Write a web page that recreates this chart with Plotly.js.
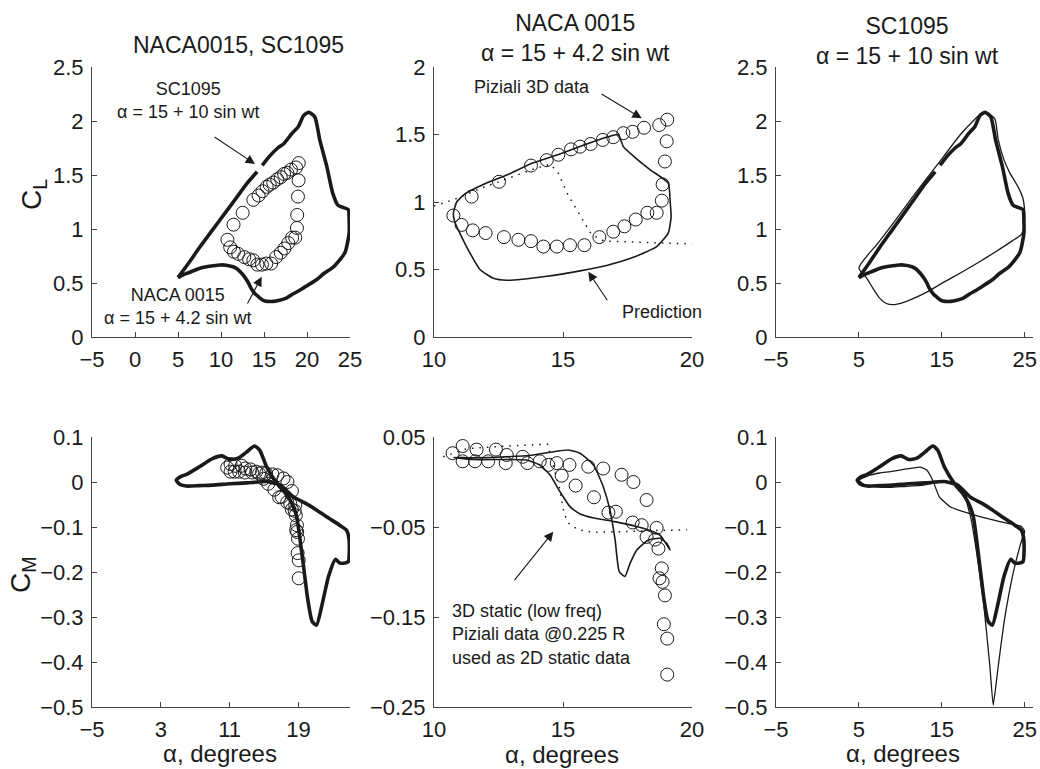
<!DOCTYPE html>
<html>
<head>
<meta charset="utf-8">
<script src="https://cdn.plot.ly/plotly-3.0.1.min.js"></script>
<style>html,body{margin:0;padding:0;background:#fff;}#chart{width:1040px;height:769px;}</style>
</head>
<body>
<div id="chart"></div>
<script>
// ---------- SC1095, alpha = 15 + 10 sin wt : C_L (thick = prediction 1, thin = prediction 2)
const alphaScClThick = [5.0, 6.2, 7.6, 9.0, 10.4, 11.8, 13.0, 14.2, null, 14.8, 15.6, 16.6, 17.3, 18.2, 19.0, 19.6, 20.2, 20.9, 21.5, 22.3, 23.0, 23.6, 24.2, 24.8, 24.9, 24.9, 24.4, 23.1, 22.0, 21.1, 20.1, 19.2, 18.4, 17.6, 16.8, 16.1, 15.4, 14.9, 14.4, 13.95, 13.5, 13.2, 12.8, 12.4, 11.9, 11.4, 10.6, 9.9, 9.1, 8.3, 7.3, 6.4, 5.7, 5.0];
const clScThick = [0.55, 0.68, 0.84, 0.99, 1.14, 1.29, 1.42, 1.53, null, 1.59, 1.67, 1.75, 1.79, 1.88, 1.95, 2.05, 2.08, 2.04, 1.82, 1.58, 1.33, 1.22, 1.20, 1.18, 1.08, 0.96, 0.78, 0.65, 0.59, 0.53, 0.48, 0.435, 0.40, 0.36, 0.34, 0.33, 0.33, 0.34, 0.37, 0.40, 0.45, 0.50, 0.55, 0.59, 0.63, 0.65, 0.665, 0.667, 0.66, 0.65, 0.63, 0.60, 0.58, 0.55];
const alphaScClThin = [5.0, 7.3, 9.3, 11.3, 13.3, 15.3, 17.3, 18.9, 19.8, 20.6, 21.4, 21.8, 22.5, 23.2, 24.2, 24.8, 25.0, 24.9, 24.6, 23.5, 21.5, 19.4, 17.4, 15.3, 13.3, 11.4, 10.4, 9.3, 8.3, 7.5, 6.7, 5.9, 5.0];
const clScThin = [0.64, 0.87, 1.07, 1.28, 1.48, 1.68, 1.88, 2.01, 2.07, 2.07, 2.02, 1.83, 1.64, 1.52, 1.39, 1.28, 1.12, 1.02, 0.95, 0.89, 0.79, 0.69, 0.60, 0.51, 0.42, 0.35, 0.32, 0.30, 0.31, 0.36, 0.45, 0.55, 0.64];

// ---------- SC1095 : C_M
const alphaScCmThick = [4.8, 5.3, 6.0, 7.5, 9.0, 10.1, 11.0, 12.0, 13.0, 13.9, 14.5, 15.3, 16.5, 17.5, 18.3, 18.8, 19.2, 19.6, 20.1, 20.6, 21.1, 21.7, 22.5, 23.3, 23.8, 24.4, 24.8, 24.9, 24.6, 23.8, 22.5, 21.1, 19.8, 18.4, 16.9, 15.3, 13.0, 11.0, 9.0, 7.5, 6.0, 5.2, 4.8];
const cmScThick = [0.004, 0.012, 0.017, 0.034, 0.052, 0.058, 0.050, 0.053, 0.067, 0.080, 0.071, 0.034, -0.003, -0.025, -0.05, -0.077, -0.129, -0.188, -0.262, -0.31, -0.318, -0.277, -0.21, -0.172, -0.18, -0.18, -0.177, -0.129, -0.107, -0.096, -0.08, -0.062, -0.047, -0.033, -0.007, 0.001, -0.002, -0.004, -0.007, -0.008, -0.009, -0.005, 0.004];
const alphaScCmThin = [5.0, 6.3, 7.5, 8.8, 10.7, 12.4, 13.15, 13.9, 14.7, 16.0, 17.6, 19.6, 22.0, 24.6, 25.0, 24.8, 24.4, 23.6, 22.55, 21.8, 21.2, 20.8, 20.0, 19.15, 18.55, 17.8, 16.8, 15.15, 12.8, 10.4, 8.8, 6.8, 5.6, 5.0];
const cmScThin = [0.004, 0.015, 0.02, 0.023, 0.029, 0.033, 0.027, 0.004, -0.033, -0.055, -0.066, -0.077, -0.088, -0.099, -0.11, -0.12, -0.144, -0.203, -0.307, -0.41, -0.496, -0.41, -0.262, -0.151, -0.084, -0.033, -0.003, 0.001, -0.007, -0.01, -0.012, -0.01, -0.005, 0.004];

// ---------- NACA 0015, alpha = 15 + 4.2 sin wt : Piziali 3D data (circles)
const alphaNacaCl = [10.75, 11.07, 11.5, 12.0, 12.71, 13.27, 13.76, 14.24, 14.76, 15.27, 15.83, 16.41, 16.95, 17.38, 17.82, 18.27, 18.63, 18.83, 18.86, 18.95, 19.02, 19.04, 18.73, 18.14, 17.70, 17.34, 16.95, 16.54, 16.07, 15.66, 15.31, 14.82, 14.37, 13.76, 12.52, 11.46];
const clNaca = [0.90, 0.83, 0.79, 0.77, 0.74, 0.72, 0.71, 0.67, 0.67, 0.68, 0.68, 0.74, 0.78, 0.82, 0.87, 0.92, 0.92, 1.01, 1.13, 1.30, 1.45, 1.61, 1.57, 1.55, 1.52, 1.51, 1.48, 1.46, 1.43, 1.41, 1.39, 1.35, 1.31, 1.27, 1.15, 1.04];
const alphaNacaCm = [10.72, 11.11, 11.11, 11.65, 11.59, 12.10, 12.40, 12.82, 12.78, 13.44, 13.62, 14.10, 14.43, 14.76, 14.95, 15.25, 15.49, 15.98, 16.20, 16.56, 16.76, 17.05, 17.27, 17.73, 17.70, 18.05, 18.24, 18.24, 18.63, 18.57, 18.70, 18.83, 18.74, 18.86, 18.95, 18.91, 19.04, 19.04];
const cmNaca = [0.032, 0.040, 0.023, 0.036, 0.023, 0.023, 0.036, 0.030, 0.021, 0.028, 0.021, 0.023, 0.019, 0.021, 0.007, 0.019, -0.004, 0.017, -0.017, 0.015, -0.034, -0.033, 0.008, 0.000, -0.045, -0.048, -0.020, -0.061, -0.051, -0.064, -0.074, -0.096, -0.107, -0.111, -0.126, -0.158, -0.174, -0.214];

// ---------- NACA 0015 : prediction
const alphaPredCl = [10.75, 10.88, 11.2, 11.91, 12.82, 13.85, 14.88, 15.92, 16.69, 17.14, 17.34, 17.73, 18.37, 19.08, 19.15, 19.19, 19.08, 18.63, 17.73, 16.69, 15.66, 14.37, 12.82, 12.3, 11.78, 11.4, 11.0, 10.81, 10.75];
const clPred = [0.916, 1.00, 1.06, 1.13, 1.20, 1.29, 1.356, 1.43, 1.48, 1.50, 1.41, 1.34, 1.24, 1.14, 1.01, 0.89, 0.77, 0.67, 0.59, 0.53, 0.49, 0.45, 0.42, 0.435, 0.50, 0.62, 0.77, 0.85, 0.916];
const alphaPredCm = [10.75, 11.5, 12.82, 13.85, 14.63, 15.21, 15.66, 16.18, 16.56, 16.82, 17.02, 17.18, 17.4, 17.6, 17.86, 18.31, 18.76, 19.02, 19.15, 18.76, 18.11, 17.0, 16.2, 15.66, 15.27, 14.88, 14.5, 14.1, 13.59, 12.82, 11.5, 10.75];
const cmPred = [0.0274, 0.027, 0.028, 0.030, 0.0337, 0.0356, 0.0319, 0.0189, -0.0052, -0.031, -0.0644, -0.0997, -0.105, -0.0904, -0.0756, -0.0644, -0.0626, -0.068, -0.0756, -0.059, -0.0515, -0.044, -0.040, -0.0355, -0.0274, -0.0107, 0.0078, 0.0189, 0.0244, 0.025, 0.025, 0.0274];

// ---------- NACA 0015 : 3D static (low freq) Piziali data used as 2D static data (dotted)
const alphaStaticCl = [10.0, 10.8, 11.8, 12.9, 13.8, 14.5, 14.8, 15.2, 15.6, 16.1, 16.6, 18.0, 20.0];
const clStatic = [0.97, 1.02, 1.10, 1.18, 1.24, 1.28, 1.22, 1.05, 0.92, 0.76, 0.71, 0.70, 0.69];
const alphaStaticCm = [10.36, 11.27, 12.82, 14.4, 14.7, 14.85, 14.95, 15.05, 15.25, 15.6, 16.2, 17.5, 19.8];
const cmStatic = [0.028, 0.037, 0.040, 0.042, 0.010, -0.005, -0.020, -0.036, -0.047, -0.053, -0.056, -0.055, -0.053];

// ---------- tick labels
const tickA1 = [-5, 0, 5, 10, 15, 20, 25];
const tickA1Text = ['\u22125', '0', '5', '10', '15', '20', '25'];
const tickA2 = [10, 15, 20];
const tickA2Text = ['10', '15', '20'];
const tickA3 = [-5, 5, 15, 25];
const tickA3Text = ['\u22125', '5', '15', '25'];
const tickA4 = [-5, 3, 11, 19];
const tickA4Text = ['\u22125', '3', '11', '19'];
const tickCl25 = [0, 0.5, 1, 1.5, 2, 2.5];
const tickCl25Text = ['0', '0.5', '1', '1.5', '2', '2.5'];
const tickCl2 = [0, 0.5, 1, 1.5, 2];
const tickCl2Text = ['0', '0.5', '1', '1.5', '2'];
const tickCm = [-0.5, -0.4, -0.3, -0.2, -0.1, 0, 0.1];
const tickCmText = ['\u22120.5', '\u22120.4', '\u22120.3', '\u22120.2', '\u22120.1', '0', '0.1'];
const tickCm5 = [-0.25, -0.15, -0.05, 0.05];
const tickCm5Text = ['\u22120.25', '\u22120.15', '\u22120.05', '0.05'];

// ---------- build
const FONT = 'Liberation Sans, Arial, Helvetica, sans-serif';
const INK = '#1a1a1a';

function line(x, y, xa, ya, w, opts) {
  opts = opts || {};
  return {
    type: 'scatter', mode: 'lines', x: x, y: y, xaxis: xa, yaxis: ya,
    line: Object.assign({color: INK, width: w, shape: 'spline', smoothing: 0.6}, opts),
    cliponaxis: false, connectgaps: false, hoverinfo: 'skip', showlegend: false
  };
}
function circles(x, y, xa, ya) {
  return {
    type: 'scatter', mode: 'markers', x: x, y: y, xaxis: xa, yaxis: ya,
    marker: {symbol: 'circle-open', size: 13, color: INK, line: {width: 1, color: INK}},
    cliponaxis: false, hoverinfo: 'skip', showlegend: false
  };
}
const dotted = {dash: '1.5px,6px', shape: 'linear'};

const traces = [
  line(alphaScClThick, clScThick, 'x', 'y', 3.6),
  circles(alphaNacaCl, clNaca, 'x', 'y'),

  line(alphaStaticCl, clStatic, 'x2', 'y2', 1.5, dotted),
  line(alphaPredCl, clPred, 'x2', 'y2', 1.6, {smoothing: 0.5}),
  circles(alphaNacaCl, clNaca, 'x2', 'y2'),

  line(alphaScClThin, clScThin, 'x3', 'y3', 1.3),
  line(alphaScClThick, clScThick, 'x3', 'y3', 3.6),

  line(alphaScCmThick, cmScThick, 'x4', 'y4', 3.6),
  circles(alphaNacaCm, cmNaca, 'x4', 'y4'),

  line(alphaStaticCm, cmStatic, 'x5', 'y5', 1.5, dotted),
  line(alphaPredCm, cmPred, 'x5', 'y5', 1.6, {smoothing: 0.5}),
  circles(alphaNacaCm, cmNaca, 'x5', 'y5'),

  line(alphaScCmThin, cmScThin, 'x6', 'y6', 1.3, {smoothing: 0.4}),
  line(alphaScCmThick, cmScThick, 'x6', 'y6', 3.6)
];

const W = 1040, H = 769;
const colDom = [[92 / W, 350 / W], [434 / W, 692 / W], [776 / W, 1033 / W]];
const rowDom = [[1 - 337 / H, 1 - 67 / H], [1 - 707 / H, 1 - 437 / H]];

function ax(dom, anchor, range, vals, text) {
  return {
    domain: dom, anchor: anchor, range: range, tickmode: 'array', tickvals: vals, ticktext: text,
    showline: true, linecolor: '#444', linewidth: 1, ticks: 'inside', ticklen: 5, tickwidth: 1, tickcolor: '#444',
    showgrid: false, zeroline: false, mirror: false, ticklabelstandoff: 3, ticklabeloverflow: 'allow',
    tickfont: {family: FONT, size: 22, color: INK}, fixedrange: true
  };
}

function txt(text, px, py, size, extra) {
  return Object.assign({
    text: text, xref: 'paper', yref: 'paper', x: px / W, y: 1 - py / H,
    xanchor: 'center', yanchor: 'middle', showarrow: false,
    font: {family: FONT, size: size, color: INK}
  }, extra || {});
}
function arrow(hx, hy, tx, ty) {
  return {
    text: '', xref: 'paper', yref: 'paper', x: hx / W, y: 1 - hy / H,
    ax: tx - hx, ay: ty - hy, showarrow: true, arrowhead: 2, arrowsize: 1.7,
    arrowwidth: 1.1, arrowcolor: INK, standoff: 0, startstandoff: 0
  };
}

const annotations = [
  txt('NACA0015, SC1095', 238, 45, 23),
  txt('NACA 0015<br>\u03b1 = 15 + 4.2 sin wt', 575, 38, 23),
  txt('SC1095<br>\u03b1 = 15 + 10 sin wt', 907, 41, 23),
  txt('SC1095<br>\u03b1 = 15 + 10 sin wt', 188, 100, 18),
  txt('NACA 0015<br>\u03b1 = 15 + 4.2 sin wt', 178, 306, 18),
  txt('Piziali 3D data', 532, 87, 18),
  txt('Prediction', 662, 312, 18),
  txt('3D static (low freq)<br>Piziali data @0.225 R<br>used as 2D static data', 450, 634, 18, {xanchor: 'left', align: 'left'}),
  txt('C<sub>L</sub>', 33, 195, 28, {textangle: -90}),
  txt('C<sub>M</sub>', 22, 575, 28, {textangle: -90}),
  txt('\u03b1, degrees', 220, 753, 24),
  txt('\u03b1, degrees', 562, 754, 24),
  txt('\u03b1, degrees', 903, 753, 24),
  arrow(255, 164, 213, 136),
  arrow(261.7, 276.7, 246.7, 305),
  arrow(641.7, 118.3, 600, 93),
  arrow(588.3, 271.7, 608.3, 301.7),
  arrow(553.3, 531.7, 513.3, 581.7)
];

const layout = {
  width: W, height: H, margin: {l: 0, r: 0, t: 0, b: 0},
  paper_bgcolor: '#fff', plot_bgcolor: '#fff', showlegend: false, hovermode: false,
  font: {family: FONT, color: INK},
  xaxis: ax(colDom[0], 'y', [-5, 25], tickA1, tickA1Text),
  yaxis: ax(rowDom[0], 'x', [0, 2.5], tickCl25, tickCl25Text),
  xaxis2: ax(colDom[1], 'y2', [10, 20], tickA2, tickA2Text),
  yaxis2: ax(rowDom[0], 'x2', [0, 2], tickCl2, tickCl2Text),
  xaxis3: ax(colDom[2], 'y3', [-5, 26], tickA3, tickA3Text),
  yaxis3: ax(rowDom[0], 'x3', [0, 2.5], tickCl25, tickCl25Text),
  xaxis4: ax(colDom[0], 'y4', [-5, 25], tickA4, tickA4Text),
  yaxis4: ax(rowDom[1], 'x4', [-0.5, 0.1], tickCm, tickCmText),
  xaxis5: ax(colDom[1], 'y5', [10, 20], tickA2, tickA2Text),
  yaxis5: ax(rowDom[1], 'x5', [-0.25, 0.05], tickCm5, tickCm5Text),
  xaxis6: ax(colDom[2], 'y6', [-5, 26], tickA3, tickA3Text),
  yaxis6: ax(rowDom[1], 'x6', [-0.5, 0.1], tickCm, tickCmText),
  annotations: annotations
};

Plotly.newPlot('chart', traces, layout, {staticPlot: true, displayModeBar: false});
</script>
</body>
</html>
